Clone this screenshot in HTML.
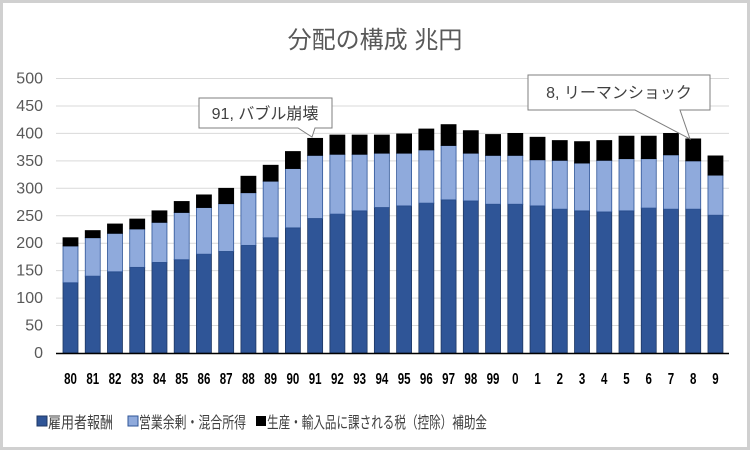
<!DOCTYPE html>
<html><head><meta charset="utf-8"><style>
body{margin:0;background:#fff}
svg{display:block}
text{font-family:"Liberation Sans","Noto Sans CJK JP",sans-serif}
</style></head><body>
<svg width="750" height="450" viewBox="0 0 750 450" xmlns="http://www.w3.org/2000/svg">
<rect x="0" y="0" width="750" height="450" fill="#fff"/>
<rect x="1.5" y="1.5" width="747" height="447" fill="none" stroke="#d0d0d0" stroke-width="3"/>
<text x="375" y="48" font-size="24" fill="#595959" text-anchor="middle">分配の構成  兆円</text>
<g id="grid" stroke="#d9d9d9" stroke-width="1"></g>
<g id="ylab" font-size="16" fill="#595959" text-anchor="end"></g>
<g id="bars"></g>
<line x1="56" y1="353.5" x2="729" y2="353.5" stroke="#000" stroke-width="1.5"/>
<g id="xlab" font-size="16" font-weight="bold" fill="#000" text-anchor="middle"></g>
<g stroke="#7f7f7f" stroke-width="1" fill="#fff">
<path d="M199,98 H332 V128 H315 L312,137 L298,128 H199 Z"/>
<path d="M528,75 H710 V110 H680 L690,139 L635,110 H528 Z"/>
</g>
<text x="265" y="119" font-size="16" fill="#404040" text-anchor="middle">91, バブル崩壊</text>
<text x="619" y="98" font-size="16" fill="#404040" text-anchor="middle">8, リーマンショック</text>
<g font-size="16" fill="#404040">
<rect x="37" y="416" width="10" height="10" fill="#2f5597" stroke="#1f3864"/>
<text x="48" y="428" textLength="65" lengthAdjust="spacingAndGlyphs">雇用者報酬</text>
<rect x="128" y="416" width="10" height="10" fill="#8faadc" stroke="#2f5597"/>
<text x="139" y="428" textLength="107" lengthAdjust="spacingAndGlyphs">営業余剰・混合所得</text>
<rect x="256" y="416" width="10" height="10" fill="#000"/>
<text x="267" y="428" textLength="220" lengthAdjust="spacingAndGlyphs">生産・輸入品に課される税（控除）補助金</text>
</g>
</svg>
<script>
const ns="http://www.w3.org/2000/svg";
const y0=353,k=0.549;
const g=document.getElementById('grid'),yl=document.getElementById('ylab');
for(let v=0;v<=500;v+=50){const y=y0-v*k;
 if(v>0){const l=document.createElementNS(ns,'line');l.setAttribute('x1',56);l.setAttribute('x2',729);l.setAttribute('y1',y);l.setAttribute('y2',y);g.appendChild(l);}
 const t=document.createElementNS(ns,'text');t.setAttribute('x',43);t.setAttribute('y',y+5);t.textContent=v;yl.appendChild(t);}
const d=[[128,195,210],[140,210,223],[148,218,235],[156,226,244],[165,238,259],[170,256,276],[180,265,288],[185,272,300],[196,292,322],[210,313,342],[228,336,367],[245,360,391],[253,362,397],[259,362,397],[265,364,397],[268,364,399],[273,370,408],[279,378,416],[277,364,405],[271,360,398],[271,360,400],[268,352,393],[262,351,387],[259,346,385],[257,351,387],[259,354,395],[264,354,395],[262,361,400],[262,350,390],[251,324,359]];
const labs=["80","81","82","83","84","85","86","87","88","89","90","91","92","93","94","95","96","97","98","99","0","1","2","3","4","5","6","7","8","9"];
const b=document.getElementById('bars'),xl=document.getElementById('xlab');
function r(x,y1,y2,f,s){const e=document.createElementNS(ns,'rect');e.setAttribute('x',x);e.setAttribute('width',15);e.setAttribute('y',y0-y2*k);e.setAttribute('height',(y2-y1)*k);e.setAttribute('fill',f);e.setAttribute('stroke',s);e.setAttribute('stroke-width',0.8);b.appendChild(e);}
d.forEach((v,i)=>{const x=63+i*22.24;
 r(x,0,v[0],'#2f5597','#1f3864');r(x,v[0],v[1],'#8faadc','#2f5597');r(x,v[1],v[2],'#000','#000');
 const t=document.createElementNS(ns,'text');const cx=x+7.5;
 t.setAttribute('transform','translate('+cx+',384) scale(0.72,1)');t.setAttribute('x',0);t.setAttribute('y',0);t.textContent=labs[i];xl.appendChild(t);});
</script>
</body></html>
